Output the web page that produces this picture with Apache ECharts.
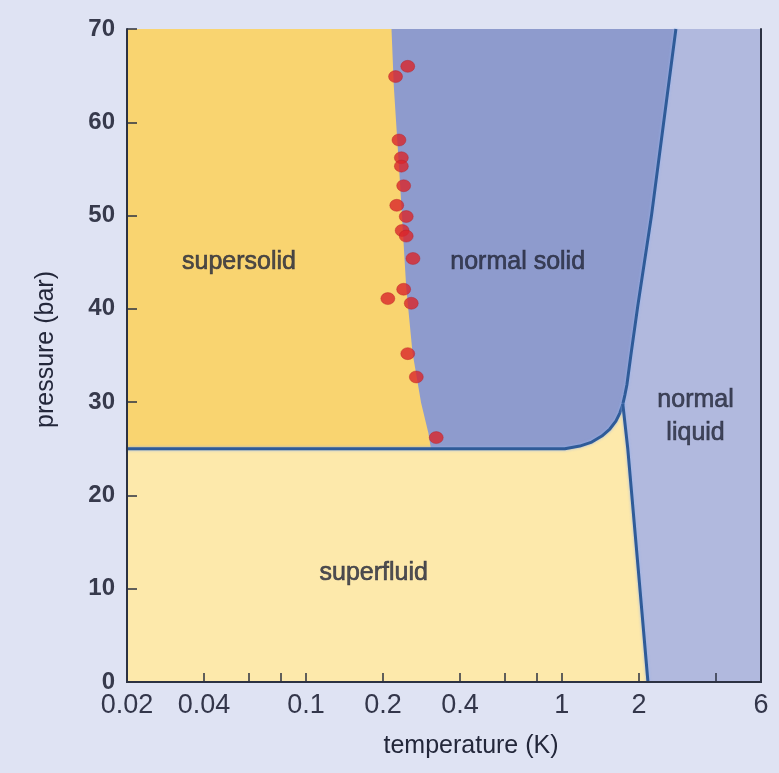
<!DOCTYPE html>
<html>
<head>
<meta charset="utf-8">
<script src="https://cdn.jsdelivr.net/npm/echarts@6/dist/echarts.min.js"></script>
<style>
  html, body { margin: 0; padding: 0; background: #dfe3f3; }
  #chart { width: 779px; height: 773px; }
</style>
</head>
<body>
<div id="chart"></div>
<script>
// axis ticks (temperature in K, log scale)
const xTickLabels = [0.02, 0.04, 0.1, 0.2, 0.4, 1, 2, 6];
const xTicks = [0.02, 0.04, 0.06, 0.08, 0.1, 0.2, 0.4, 0.6, 0.8, 1, 2, 4, 6];

// solid / fluid boundary (25 bar line, rounded knee, then melting curve)
const meltT = [0.02, 1.027, 1.175, 1.309, 1.433, 1.54, 1.626, 1.685, 1.731, 1.763, 1.795, 1.86, 1.98, 2.24, 2.5, 2.79];
const meltP = [25, 25, 25.29, 25.72, 26.37, 27.12, 27.97, 28.83, 29.79, 30.76, 31.83, 35, 40.3, 50, 60, 70];

// lambda line (superfluid / normal liquid)
const lambdaT = [1.731, 1.81, 1.99, 2.17];
const lambdaP = [29.79, 25, 12, 0];

// supersolid onset
const ssT = [0.308, 0.301, 0.282, 0.261, 0.2466, 0.2337, 0.2206, 0.216];
const ssP = [25, 26.7, 29.9, 35.3, 42.3, 53.1, 63.8, 70];

// measured points
const dotT = [0.250, 0.224, 0.231, 0.236, 0.236, 0.241, 0.2265, 0.2466, 0.2377, 0.2466, 0.262, 0.241, 0.209, 0.258, 0.250, 0.270, 0.323];
const dotP = [66.0, 64.9, 58.1, 56.2, 55.3, 53.2, 51.1, 49.9, 48.4, 47.8, 45.4, 42.1, 41.1, 40.6, 35.2, 32.7, 26.2];

// region names
const regionNames = ['supersolid', 'normal solid', 'normal\nliquid', 'superfluid'];
const regionT = [0.0548, 0.672, 3.33, 0.184];
const regionP = [45, 45, 28.4, 11.7];

const zip = (a, b) => a.map((v, i) => [v, b[i]]);
const meltPts = zip(meltT, meltP);
const lambdaPts = zip(lambdaT, lambdaP);
const ssPts = zip(ssT, ssP);
const jIdx = meltT.indexOf(lambdaT[0]);

const polygons = [
  { color: '#8e9bcd', pts: meltPts.concat([[0.02, 70]]) },
  { color: '#f9d470', pts: [[0.02, 25]].concat(ssPts, [[0.02, 70]]) },
  { color: '#fde9ab', pts: [[0.02, 0]].concat(meltPts.slice(0, jIdx + 1), lambdaPts.slice(1)) }
];

const FONT = '"Liberation Sans", Arial, sans-serif';
const AXIS = '#2c3242';
const TEXT = '#23273a';

const chart = echarts.init(document.getElementById('chart'));
chart.setOption({
  animation: false,
  backgroundColor: '#dfe3f3',
  grid: {
    left: 127, right: 18, top: 29, bottom: 91,
    show: true, backgroundColor: '#b1b9de', borderWidth: 0
  },
  xAxis: [{
    type: 'log', min: 0.02, max: 6, position: 'bottom', z: 10,
    name: 'temperature (K)', nameLocation: 'middle', nameGap: 52,
    nameTextStyle: { fontSize: 25, color: TEXT, fontFamily: FONT, padding: [0, 0, 0, 54] },
    axisLine: { lineStyle: { color: AXIS, width: 2 } },
    axisTick: { inside: true, length: 9, customValues: xTicks, lineStyle: { color: AXIS, width: 1.5 } },
    axisLabel: {
      customValues: xTickLabels, fontSize: 27, color: '#33364a', margin: 10, fontFamily: FONT,
      formatter: function (v) { return String(+(+v).toPrecision(3)); }
    },
    splitLine: { show: false }
  }, {
    type: 'log', min: 0.02, max: 6, position: 'top', z: 10,
    axisLine: { lineStyle: { color: AXIS, width: 2 } },
    axisTick: { show: false }, axisLabel: { show: false }, splitLine: { show: false }
  }],
  yAxis: [{
    type: 'value', min: 0, max: 70, interval: 10, z: 10,
    name: 'pressure (bar)', nameLocation: 'middle', nameGap: 68,
    nameTextStyle: { fontSize: 25, color: TEXT, fontFamily: FONT, padding: [0, 0, 0, 12] },
    axisLine: { show: true, lineStyle: { color: AXIS, width: 2 } },
    axisTick: { show: true, inside: true, length: 10, lineStyle: { color: AXIS, width: 1.5 } },
    axisLabel: { fontSize: 24, fontWeight: 'bold', color: '#373a4c', margin: 12, fontFamily: FONT },
    splitLine: { show: false }
  }, {
    type: 'value', min: 0, max: 70, position: 'right', z: 10,
    axisLine: { show: true, lineStyle: { color: AXIS, width: 2 } },
    axisTick: { show: false }, axisLabel: { show: false }, splitLine: { show: false }
  }],
  series: [{
    type: 'custom',
    z: 1,
    silent: true,
    data: polygons.map(function (p) { return p.pts[0]; }),
    renderItem: function (params, api) {
      const poly = polygons[params.dataIndex];
      return {
        type: 'polygon',
        shape: { points: poly.pts.map(function (p) { return api.coord(p); }) },
        style: { fill: poly.color }
      };
    }
  }, {
    type: 'line',
    data: meltPts,
    symbol: 'none',
    z: 3,
    lineStyle: { color: '#2f5b98', width: 3, shadowColor: 'rgba(150,180,240,0.9)', shadowBlur: 3 }
  }, {
    type: 'line',
    data: lambdaPts,
    symbol: 'none',
    z: 3,
    lineStyle: { color: '#2f5b98', width: 3, shadowColor: 'rgba(150,180,240,0.9)', shadowBlur: 3 }
  }, {
    type: 'scatter',
    data: zip(dotT, dotP),
    symbolSize: [14, 12],
    z: 5,
    itemStyle: { color: '#da252b', borderColor: '#b31e24', borderWidth: 0.5 }
  }, {
    type: 'scatter',
    symbolSize: 0,
    z: 6,
    silent: true,
    data: regionNames.map(function (n, i) { return { name: n, value: [regionT[i], regionP[i]] }; }),
    label: {
      show: true, position: 'inside', formatter: '{b}',
      fontSize: 25, lineHeight: 33, color: TEXT, fontFamily: FONT,
      textBorderColor: TEXT, textBorderWidth: 0.6
    }
  }]
});
</script>
</body>
</html>
